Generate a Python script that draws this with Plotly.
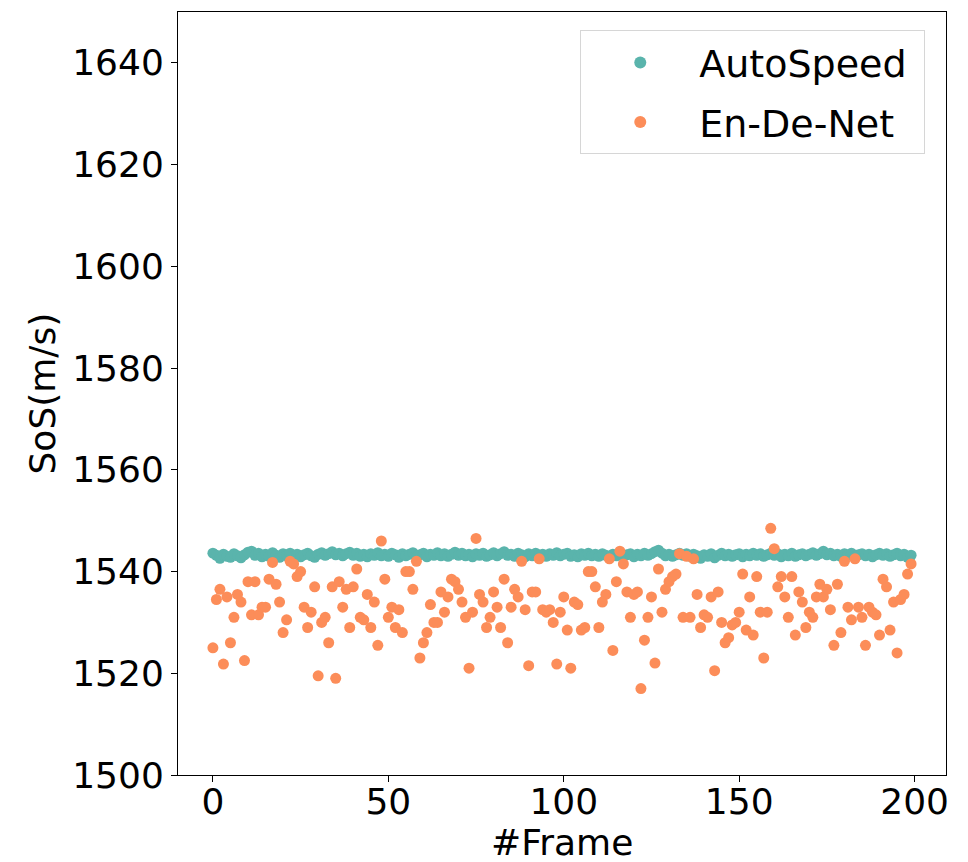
import plotly.graph_objects as go

frames = list(range(200))

autospeed = [
1543.6, 1543.2, 1542.6, 1543.4, 1543.0, 1542.8, 1543.5, 1543.1, 1542.7, 1543.3,
1543.8, 1544.0, 1543.2, 1543.6, 1542.9, 1543.4, 1543.0, 1543.7, 1543.2, 1542.8,
1543.5, 1543.1, 1543.6, 1543.0, 1543.4, 1542.9, 1543.3, 1543.6, 1543.1, 1542.8,
1543.4, 1543.7, 1543.2, 1543.5, 1543.9, 1543.3, 1543.6, 1543.1, 1543.5, 1543.8,
1543.2, 1543.6, 1543.0, 1543.4, 1542.9, 1543.5, 1543.2, 1543.7, 1543.1, 1543.4,
1543.0, 1543.6, 1543.3, 1542.8, 1543.5, 1543.1, 1543.4, 1543.7, 1543.0, 1543.3,
1543.6, 1542.9, 1543.4, 1543.2, 1543.7, 1543.1, 1543.5, 1543.0, 1543.4, 1543.8,
1543.2, 1543.6, 1543.1, 1543.4, 1542.9, 1543.5, 1543.2, 1543.6, 1543.0, 1543.3,
1543.7, 1543.1, 1543.5, 1543.9, 1543.2, 1543.4, 1543.0, 1543.6, 1543.3, 1542.9,
1543.5, 1543.1, 1543.6, 1543.2, 1543.4, 1543.0, 1543.5, 1543.2, 1543.7, 1543.1,
1543.4, 1543.6, 1543.0, 1543.3, 1542.9, 1543.5, 1543.2, 1543.6, 1543.1, 1543.4,
1543.0, 1543.5, 1543.2, 1542.8, 1543.4, 1543.1, 1543.6, 1543.0, 1543.3, 1543.5,
1542.9, 1543.4, 1543.1, 1543.6, 1543.2, 1543.5, 1543.9, 1544.2, 1543.6, 1543.1,
1543.4, 1543.0, 1543.3, 1543.6, 1543.2, 1543.5, 1543.0, 1543.4, 1543.1, 1542.6,
1543.3, 1543.0, 1543.5, 1542.7, 1543.2, 1543.6, 1543.1, 1543.4, 1543.0, 1543.3,
1543.5, 1542.9, 1543.4, 1543.1, 1543.6, 1543.2, 1543.5, 1543.0, 1543.3, 1543.6,
1543.2, 1543.5, 1542.9, 1543.4, 1543.1, 1543.6, 1543.0, 1543.3, 1543.5, 1543.1,
1543.4, 1543.7, 1543.2, 1543.5, 1544.0, 1543.3, 1543.6, 1543.1, 1543.4, 1543.0,
1543.5, 1543.2, 1543.6, 1543.0, 1543.3, 1543.5, 1543.1, 1543.4, 1542.9, 1543.3,
1543.6, 1543.2, 1543.5, 1543.0, 1543.3, 1543.6, 1543.1, 1543.4, 1542.8, 1543.2,
]

endenet = [
1525.0, 1534.5, 1536.5, 1521.8, 1535.0, 1526.0, 1531.0, 1535.5, 1534.0, 1522.5,
1538.0, 1531.5, 1538.0, 1531.5, 1533.0, 1533.0, 1538.5, 1541.8, 1537.5, 1534.0,
1528.0, 1530.5, 1542.0, 1541.5, 1539.0, 1540.0, 1533.0, 1529.0, 1532.0, 1537.0,
1519.5, 1530.0, 1531.0, 1526.0, 1537.0, 1519.0, 1538.0, 1533.0, 1536.5, 1529.0,
1537.0, 1540.5, 1531.0, 1530.5, 1535.5, 1529.0, 1534.0, 1525.5, 1546.0, 1538.5,
1531.0, 1533.0, 1529.0, 1532.5, 1528.0, 1540.0, 1540.0, 1536.5, 1542.0, 1523.0,
1526.0, 1528.0, 1533.5, 1530.0, 1530.0, 1536.0, 1532.0, 1535.0, 1538.5, 1538.0,
1536.5, 1534.0, 1531.0, 1521.0, 1532.0, 1546.5, 1535.5, 1534.0, 1529.0, 1531.0,
1536.0, 1533.0, 1529.0, 1538.5, 1526.0, 1533.0, 1536.5, 1535.0, 1542.0, 1532.5,
1521.5, 1536.0, 1536.0, 1542.5, 1532.5, 1532.0, 1532.5, 1530.0, 1521.8, 1532.0,
1535.0, 1528.5, 1521.0, 1534.0, 1533.5, 1528.5, 1529.0, 1540.0, 1540.0, 1537.0,
1529.0, 1534.0, 1535.5, 1542.5, 1524.5, 1538.0, 1544.0, 1541.5, 1536.0, 1531.0,
1535.5, 1536.0, 1517.0, 1526.5, 1531.0, 1535.0, 1522.0, 1540.5, 1532.0, 1536.5,
1538.0, 1539.0, 1539.5, 1543.5, 1531.0, 1543.0, 1531.0, 1542.5, 1535.5, 1529.0,
1531.5, 1531.0, 1535.0, 1520.5, 1536.0, 1530.0, 1526.0, 1527.0, 1529.5, 1530.0,
1532.0, 1539.5, 1528.5, 1535.0, 1527.5, 1539.0, 1532.0, 1523.0, 1532.0, 1548.5,
1544.5, 1537.0, 1539.0, 1535.0, 1531.0, 1539.0, 1527.5, 1536.0, 1534.0, 1529.0,
1532.0, 1531.0, 1535.0, 1537.5, 1535.0, 1536.5, 1532.5, 1525.5, 1537.5, 1528.0,
1542.0, 1533.0, 1530.5, 1542.5, 1533.0, 1531.0, 1525.5, 1533.0, 1532.0, 1531.5,
1527.5, 1538.5, 1537.0, 1528.5, 1534.0, 1524.0, 1534.5, 1535.5, 1539.5, 1541.5,
]

x_ticks = [0, 50, 100, 150, 200]
y_ticks = [1500, 1520, 1540, 1560, 1580, 1600, 1620, 1640]
x_title = "#Frame"
y_title = "SoS(m/s)"

TEAL = "#5AB4AC"
ORANGE = "#FC8D59"
FONT = "DejaVu Sans"
FS = 36

fig = go.Figure()
fig.add_trace(go.Scatter(x=frames, y=autospeed, mode="markers", name="AutoSpeed\u00a0",
                         legendgroup="a",
                         marker=dict(color=TEAL, size=11, line=dict(width=0))))
fig.add_trace(go.Scatter(x=frames, y=endenet, mode="markers", name="En-De-Net",
                         legendgroup="b",
                         marker=dict(color=ORANGE, size=11, line=dict(width=0))))

axis_common = dict(showline=True, linecolor="black", linewidth=1, mirror=True,
                   ticks="outside", ticklen=6, tickwidth=1, tickcolor="black",
                   showgrid=False, zeroline=False, automargin=False,
                   tickfont=dict(family=FONT, size=FS, color="black"))

fig.update_layout(
    width=968, height=862,
    margin=dict(l=178, r=22, t=12, b=87),
    paper_bgcolor="white", plot_bgcolor="white",
    font=dict(family=FONT, color="black"),
    xaxis=dict(range=[-9.95, 208.95], tickvals=x_ticks, ticklabelstandoff=-11,
               **axis_common),
    yaxis=dict(range=[1500, 1650], tickvals=y_ticks, **axis_common),
    legend=dict(x=0.973, y=0.976, xanchor="right", yanchor="top",
                bgcolor="rgba(255,255,255,0.8)", bordercolor="#d6d6d6", borderwidth=1,
                font=dict(family=FONT, size=38, color="black"),
                itemsizing="constant", itemwidth=108, tracegroupgap=7,
                traceorder="grouped"),
    showlegend=True,
    annotations=[
        dict(text=x_title, xref="paper", yref="paper", x=0.5, y=0,
             xanchor="center", yanchor="middle", yshift=-67, showarrow=False,
             font=dict(family=FONT, size=FS, color="black")),
        dict(text=y_title, xref="paper", yref="paper", x=0, y=0.5,
             xanchor="center", yanchor="middle", xshift=-136, textangle=-90,
             showarrow=False, font=dict(family=FONT, size=FS, color="black")),
    ],
)

fig.write_html("out.html")
